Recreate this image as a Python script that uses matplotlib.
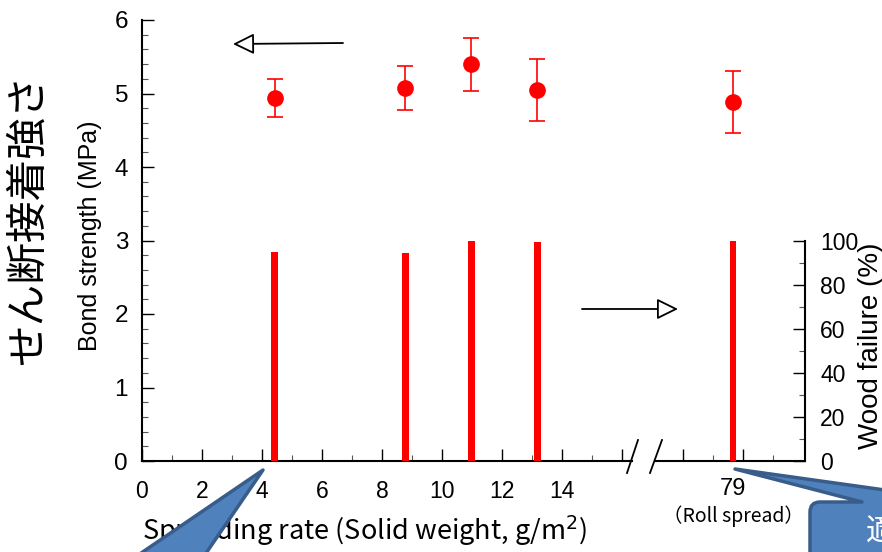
import matplotlib
matplotlib.use("Agg")
import matplotlib.pyplot as plt
from matplotlib.patches import Polygon, PathPatch
from matplotlib.path import Path
from matplotlib.ticker import FixedLocator, FixedFormatter
import matplotlib.transforms as mtransforms

plt.rcParams['font.family'] = ['Liberation Sans', 'Noto Sans CJK JP', 'DejaVu Sans']

# ---- data ----
rates = [4.43, 8.77, 10.97, 13.17, 79]          # spreading rate (g/m2)
strength = [4.94, 5.08, 5.40, 5.05, 4.88]       # bond strength (MPa)
strength_err = [0.26, 0.30, 0.36, 0.42, 0.42]   # error bars (MPa)
wood_failure = [95, 94.5, 100, 99.5, 100]       # wood failure (%)
x_ticks = [0, 2, 4, 6, 8, 10, 12, 14, 16]
x_tick_labels = ['0', '2', '4', '6', '8', '10', '12', '14', '']
y_ticks = [0, 1, 2, 3, 4, 5, 6]
wf_ticks = [0, 20, 40, 60, 80, 100]
roll_label = '79'
roll_note = '（Roll spread）'

W, H = 882, 552
fig = plt.figure(figsize=(W / 100, H / 100), dpi=100)

def fx(p):
    return p / W

def fy(p):
    return 1 - p / H

bottom = fy(461)
height = (461 - 20) / H
ax1 = fig.add_axes([fx(142), bottom, (632 - 142) / W, height])
ax2 = fig.add_axes([fx(655), bottom, (805 - 655) / W, height])

red = '#FF0000'
maj = dict(direction='in', length=8.6, width=1.0, color='black')
mino = dict(direction='in', length=4.3, width=0.8, color='#555555')

# left segment
ax1.set_xlim(0, 16.33)
ax1.set_ylim(0, 6)
for s in ['top', 'right']:
    ax1.spines[s].set_visible(False)
for s in ['left', 'bottom']:
    ax1.spines[s].set_linewidth(1.5)
ax1.xaxis.set_major_locator(FixedLocator(x_ticks))
ax1.xaxis.set_major_formatter(FixedFormatter(x_tick_labels))
ax1.xaxis.set_minor_locator(FixedLocator([1, 3, 5, 7, 9, 11, 13, 15]))
ax1.yaxis.set_major_locator(FixedLocator(y_ticks))
ax1.yaxis.set_minor_locator(FixedLocator([i / 5 for i in range(31) if i % 5]))
ax1.tick_params(axis='both', which='major', **maj)
ax1.tick_params(axis='both', which='minor', **mino)
ax1.tick_params(axis='x', which='major', pad=14, labelsize=16.5)
ax1.tick_params(axis='y', which='major', pad=10, labelsize=17.5)

# right segment
ax2.set_xlim(76.4, 81.4)
ax2.set_ylim(0, 6)
for s in ['top', 'left', 'right']:
    ax2.spines[s].set_visible(False)
ax2.spines['bottom'].set_linewidth(1.5)
ax2.set_yticks([])
ax2.xaxis.set_major_locator(FixedLocator([77.33, 79.33]))
ax2.xaxis.set_major_formatter(FixedFormatter(['', '']))
ax2.xaxis.set_minor_locator(FixedLocator([78.33, 80.33]))
ax2.tick_params(axis='x', which='major', **maj)
ax2.tick_params(axis='x', which='minor', **mino)
ax2.patch.set_alpha(0)
ax1.patch.set_alpha(0)

tr2 = mtransforms.blended_transform_factory(ax2.transData, ax2.transAxes)
ax2.text(79, -0.063, roll_label, transform=tr2, ha='center', va='center', fontsize=17)
ax2.text(79, -0.125, roll_note, transform=tr2, ha='center', va='center', fontsize=14,
         family=['Noto Sans CJK JP', 'DejaVu Sans'])

# twin axes for wood failure
ax1b = ax1.twinx()
ax2b = ax2.twinx()
for a in (ax1b, ax2b):
    a.set_ylim(0, 200)
    for s in ['top', 'left', 'right', 'bottom']:
        a.spines[s].set_visible(False)
ax1b.set_yticks([])
ax2b.spines['right'].set_visible(True)
ax2b.spines['right'].set_linewidth(1.5)
ax2b.spines['right'].set_bounds(0, 100)
ax2b.yaxis.set_major_locator(FixedLocator(wf_ticks))
ax2b.yaxis.set_minor_locator(FixedLocator([10, 30, 50, 70, 90]))
ax2b.tick_params(axis='y', which='major', pad=11, labelsize=16.5, **maj)
ax2b.tick_params(axis='y', which='minor', **mino)

for x, s, e, w in zip(rates, strength, strength_err, wood_failure):
    if x < 50:
        ax, axb = ax1, ax1b
    else:
        ax, axb = ax2, ax2b
    axb.bar(x, w, width=0.23, color=red, zorder=3)
    ax.errorbar(x, s, yerr=e, fmt='o', color=red, ms=11, elinewidth=1.2,
                capsize=5.5, capthick=1.2, zorder=4, clip_on=False)

# labels
fig.text(fx(28), fy(219), 'せん断接着強さ', rotation=90, ha='center', va='center',
         fontsize=30, family=['Noto Sans CJK JP', 'DejaVu Sans'])
fig.text(fx(90), fy(236), 'Bond strength (MPa)', rotation=90, ha='center', va='center',
         fontsize=18)
fig.text(fx(858), fy(449), 'Wood failure (%)', rotation=90, ha='left', va='bottom',
         fontsize=20)
fig.text(fx(364), fy(531), 'Spreading rate (Solid weight, g/m$^2$)', ha='center',
         va='center', fontsize=19.5, family=['Noto Sans CJK JP', 'DejaVu Sans'])

# overlay (arrows, axis break, callouts)
ov = fig.add_axes([0, 0, 1, 1], zorder=10)
ov.set_xlim(0, W)
ov.set_ylim(H, 0)
ov.axis('off')
ov.patch.set_alpha(0)

ap = dict(arrowstyle='-|>,head_length=0.65,head_width=0.32', fc='white', ec='black',
          lw=1.3, mutation_scale=20, shrinkA=0, shrinkB=0)
ov.annotate('', xy=(233, 44), xytext=(343, 43), arrowprops=ap)
ov.annotate('', xy=(678, 309), xytext=(582, 309), arrowprops=ap)

ov.plot([627, 638], [473, 440], color='black', lw=1.3)
ov.plot([650, 662], [473, 440], color='black', lw=1.3)

blue = '#4F81BD'
dblue = '#385D8A'
ov.add_patch(Polygon([(263, 470), (128, 562), (200, 562)], closed=True, fc=blue,
                     ec=dblue, lw=2.5, joinstyle='round'))
verts = [(735, 469), (862, 502), (820, 502), (810, 502), (810, 512), (810, 562),
         (892, 562), (892, 491), (735, 469)]
codes = [Path.MOVETO, Path.LINETO, Path.LINETO, Path.CURVE3, Path.CURVE3, Path.LINETO,
         Path.LINETO, Path.LINETO, Path.CLOSEPOLY]
ov.add_patch(PathPatch(Path(verts, codes), fc=blue, ec=dblue, lw=2.5, joinstyle='round'))
ov.text(866, 516, '適', color='white', ha='left', va='top', fontsize=22,
        family=['Noto Sans CJK JP', 'DejaVu Sans'])

fig.savefig('out.png', dpi=100)
